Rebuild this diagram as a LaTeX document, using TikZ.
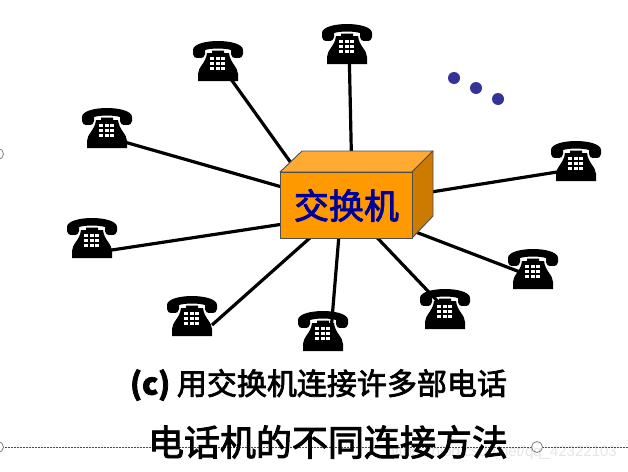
\documentclass[tikz,border=0pt]{standalone}
\usepackage{fontspec}
\newfontfamily\cjk[FakeBold=2.5]{Noto Sans CJK SC}
\newfontfamily\urlfont{Liberation Sans}
\usetikzlibrary{backgrounds}
\definecolor{boxfront}{HTML}{FF9900}
\definecolor{boxtop}{HTML}{FFAA33}
\definecolor{boxside}{HTML}{CC7A00}
\definecolor{boxline}{HTML}{4D4D4D}
\definecolor{dotblue}{HTML}{333399}
\definecolor{labelblue}{HTML}{000099}
\tikzset{
  phone/.style={inner sep=0pt,outer sep=0pt},
  wire/.style={line width=3.2pt,black},
  boxface/.style={draw=boxline,line width=.9pt,line join=round},
  dotmark/.style={circle,fill=dotblue,minimum size=12pt,inner sep=0pt},
  handle/.style={circle,draw=black!50,fill=white,minimum size=11pt,inner sep=0pt,line width=.8pt},
}
\newsavebox{\phonebox}
\sbox{\phonebox}{\begin{tikzpicture}[x=1pt,y=-1pt]
\useasboundingbox (-25,-20) rectangle (25,20);
% handset
\fill (-25,-11) .. controls (-25,-17) and (-12,-20) .. (0,-20) .. controls (12,-20) and (25,-17) .. (25,-11)
  -- (25,-7) .. controls (25,-4) and (23,-3) .. (19,-3) .. controls (15,-3) and (13,-4) .. (13,-7) -- (13,-11)
  .. controls (6,-13) and (-6,-13) .. (-13,-11) -- (-13,-7) .. controls (-13,-4) and (-15,-3) .. (-19,-3)
  .. controls (-23,-3) and (-25,-4) .. (-25,-7) -- cycle;
% body
\fill (-11,-8) -- (-6,-8) -- (-6,-10.5) -- (6,-10.5) -- (6,-8) -- (11,-8) .. controls (12,2) and (20,6) .. (20,13)
  -- (20,20) -- (-20,20) -- (-20,13) .. controls (-20,6) and (-12,2) .. (-11,-8) -- cycle;
% keys
\foreach \x in {-8,-2.5,3}{\foreach \y in {-4,1,6}{\fill[white] (\x,\y) rectangle ++(4,3.4);}}
\end{tikzpicture}}
\begin{document}
\begin{tikzpicture}[x=1pt,y=-1pt]
\useasboundingbox (0,0) rectangle (628,471);
% telephones
\node[phone] (phoneA) at (107,128) {\usebox{\phonebox}};
\node[phone] (phoneB) at (218,61) {\usebox{\phonebox}};
\node[phone] (phoneC) at (347,44) {\usebox{\phonebox}};
\node[phone] (phoneD) at (576,161) {\usebox{\phonebox}};
\node[phone] (phoneE) at (533,269) {\usebox{\phonebox}};
\node[phone] (phoneF) at (445,309) {\usebox{\phonebox}};
\node[phone] (phoneG) at (323,331) {\usebox{\phonebox}};
\node[phone] (phoneH) at (192,316) {\usebox{\phonebox}};
\node[phone] (phoneI) at (92,238) {\usebox{\phonebox}};
% switch
\coordinate (ftl) at (280,172);\coordinate (ftr) at (412,172);
\coordinate (fbr) at (412,238);
\coordinate (btl) at (302,151);\coordinate (btr) at (433,151);\coordinate (bbr) at (433,216);
\filldraw[boxface,fill=boxtop] (ftl) -- (btl) -- (btr) -- (ftr) -- cycle;
\filldraw[boxface,fill=boxside] (ftr) -- (btr) -- (bbr) -- (fbr) -- cycle;
\node[boxface,fill=boxfront,minimum width=132pt,minimum height=66pt,inner sep=0pt,anchor=north west,
  font=\cjk\fontsize{35}{35}\selectfont,text=labelblue] (switch) at (ftl) {交换机};
% wires, behind phones and box
\begin{scope}[on background layer]
\fill[white] (0,0) rectangle (628,471);
\draw[wire] ([shift={(0,9)}]phoneA.center) -- (switch.center);
\draw[wire] (phoneB.center) -- ([shift={(-25,0)}]switch.center);
\draw[wire] ([shift={(2,0)}]phoneC.center) -- ([shift={(6,0)}]switch.center);
\draw[wire] ([shift={(0,8)}]phoneD.center) -- (switch.center);
\draw[wire] ([shift={(0,8)}]phoneE.center) -- (switch.center);
\draw[wire] (phoneF.center) -- (switch.center);
\draw[wire] ([shift={(8,0)}]phoneG.center) -- ([shift={(-5,0)}]switch.center);
\draw[wire] ([shift={(20,9)}]phoneH.center) -- (switch.center);
\draw[wire] ([shift={(0,15)}]phoneI.center) -- ([shift={(0,9)}]switch.center);
\end{scope}
% dots
\node[dotmark] (dotA) at (454,78) {};
\node[dotmark] (dotB) at (476,88) {};
\node[dotmark] (dotC) at (498,99) {};
% captions
\node[inner sep=0pt,font=\cjk\fontsize{30}{30}\selectfont] (capC) at (318.5,385) {{\bfseries (c)} 用交换机连接许多部电话};
\coordinate (guideL) at (0,447);\coordinate (guideR) at (628,447);
\draw[densely dotted,black!70,line width=.5pt] (guideL) -- (guideR);
\node[inner sep=0pt,font=\cjk\fontsize{36}{36}\selectfont] (capT) at (328,442) {电话机的不同连接方法};
% slide handles
\node[handle] (handleA) at (-2,154) {};
\node[handle] (handleB) at (-2,447) {};
\node[handle] (handleC) at (537,447) {};
\node[anchor=east,inner sep=0pt,text=black,opacity=.1,font=\urlfont\fontsize{15}{15}\selectfont] (markT) at (617,453) {https://blog.csdn.net/qq\_42322103};
\end{tikzpicture}
\end{document}
